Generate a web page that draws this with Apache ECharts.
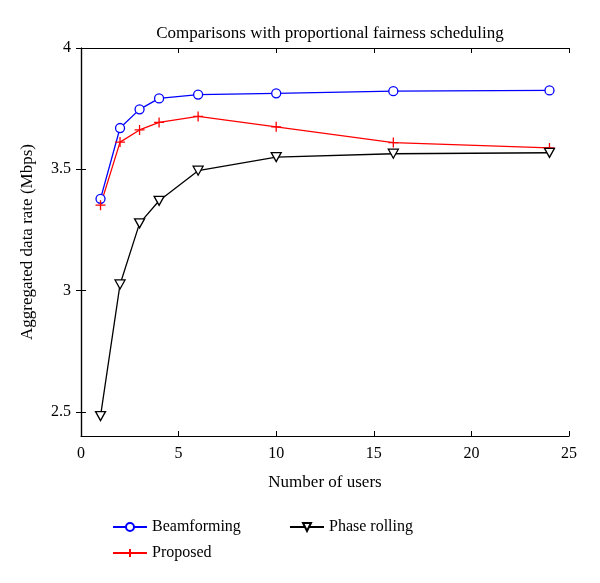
<!DOCTYPE html>
<html><head><meta charset="utf-8">
<script src="https://cdn.jsdelivr.net/npm/echarts@6/dist/echarts.min.js"></script>
<style>html,body{margin:0;padding:0;background:#fff}#c{width:600px;height:583px}</style>
</head><body><div id="c"></div>
<script>
var users = [1, 2, 3, 4, 6, 10, 16, 24];
var beamforming = [3.378, 3.670, 3.747, 3.792, 3.808, 3.813, 3.822, 3.825];
var proposed = [3.352, 3.612, 3.662, 3.693, 3.718, 3.675, 3.610, 3.588];
var phaseRolling = [2.482, 3.025, 3.277, 3.370, 3.494, 3.550, 3.564, 3.568];
var xTicks = [0, 5, 10, 15, 20, 25];
var yTicks = [2.5, 3, 3.5, 4];

function pairs(xs, ys){ return xs.map(function(x,i){return [x, ys[i]];}); }
var FONT = '"Liberation Serif", "DejaVu Serif", serif';
var chart = echarts.init(document.getElementById('c'));
var plusPath = 'path://M0,5L10,5M5,0L5,10';
var triPath = 'path://M0,0L10,0L5,8.66Z';
function lg(name, left, top){
  return {data:[name], left:left, top:top, orient:'horizontal', itemWidth:34, itemHeight:10, itemGap:10,
    textStyle:{fontFamily:FONT, fontSize:16, color:'#000'}, selectedMode:false};
}
chart.setOption({
  animation:false,
  title:{text:'Comparisons with proportional fairness scheduling', left:325, textAlign:'center', top:20,
    textStyle:{fontFamily:FONT, fontSize:17, fontWeight:'normal', color:'#000'}},
  legend:[lg('Beamforming',107,514), lg('Proposed',107,540), lg('Phase rolling',284,514)],
  grid:{left:81, right:31, top:48, bottom:147},
  xAxis:[{type:'value', min:0, max:25, interval:5, name:'Number of users', nameLocation:'middle', nameGap:38,
    nameTextStyle:{fontFamily:FONT, fontSize:17, color:'#000'},
    axisLine:{lineStyle:{color:'#000', width:1.2}}, axisTick:{inside:true, length:5, lineStyle:{color:'#000'}},
    axisLabel:{fontFamily:FONT, fontSize:16, color:'#000', margin:10}, splitLine:{show:false}},
    {type:'value', position:'top', min:0, max:25, interval:5,
    axisLine:{lineStyle:{color:'#000', width:1.2}}, axisTick:{inside:true, length:5, lineStyle:{color:'#000'}},
    axisLabel:{show:false}, splitLine:{show:false}}],
  yAxis:[{type:'value', min:2.4, max:4, name:'Aggregated data rate (Mbps)', nameLocation:'middle', nameGap:45,
    nameTextStyle:{fontFamily:FONT, fontSize:17, color:'#000'},
    axisLine:{lineStyle:{color:'#000', width:1.2}}, axisTick:{inside:true, length:5, lineStyle:{color:'#000'},
      customValues:yTicks},
    axisLabel:{fontFamily:FONT, fontSize:16, color:'#000', margin:10, customValues:yTicks,
      formatter:function(v){return String(v);}}, splitLine:{show:false}},
    {type:'value', position:'right', min:2.4, max:4,
    axisLine:{lineStyle:{color:'#000', width:1.2}}, axisTick:{inside:true, length:5, lineStyle:{color:'#000'}, customValues:yTicks},
    axisLabel:{show:false}, splitLine:{show:false}}],
  series:[
    {name:'Beamforming', type:'line', data:pairs(users, beamforming), symbol:'circle', symbolSize:9,
      lineStyle:{color:'#0000ff', width:1.3}, itemStyle:{color:'#fff', borderColor:'#0000ff', borderWidth:1.3}},
    {name:'Proposed', type:'line', data:pairs(users, proposed), symbol:plusPath, symbolSize:10,
      lineStyle:{color:'#ff0000', width:1.3}, itemStyle:{color:'#ff0000', borderColor:'#ff0000', borderWidth:1.3}},
    {name:'Phase rolling', type:'line', data:pairs(users, phaseRolling), symbol:triPath, symbolSize:[10,9],
      lineStyle:{color:'#000', width:1.3}, itemStyle:{color:'#fff', borderColor:'#000', borderWidth:1.3}}
  ]
});
</script></body></html>
